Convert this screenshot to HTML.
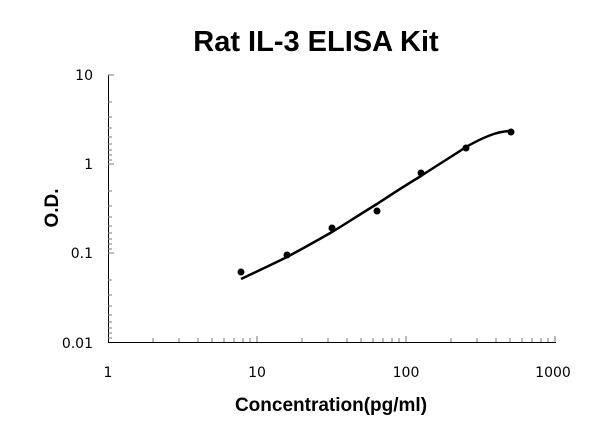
<!DOCTYPE html><html><head><style>body{margin:0;background:#fff}svg{display:block}</style></head><body>
<svg width="600" height="438" xmlns="http://www.w3.org/2000/svg" font-family="Liberation Sans, sans-serif">
<text x="316" y="51" font-size="29" font-weight="bold" text-anchor="middle">Rat IL-3 ELISA Kit</text>
<g stroke="#000" stroke-width="1" fill="none">
<line x1="108.5" y1="75" x2="108.5" y2="342"/>
<line x1="108" y1="342.5" x2="556" y2="342.5"/>
</g>
<g font-size="14" fill="#000" font-family="DejaVu Sans, sans-serif">
<text x="93" y="80" text-anchor="end">10</text>
<text x="93" y="169" text-anchor="end">1</text>
<text x="93" y="258" text-anchor="end">0.1</text>
<text x="93" y="348" text-anchor="end">0.01</text>
<text x="108" y="377" text-anchor="middle">1</text>
<text x="257" y="377" text-anchor="middle">10</text>
<text x="406" y="377" text-anchor="middle">100</text>
<text x="553" y="377" text-anchor="middle">1000</text>
</g>
<text x="331" y="411" font-size="19" font-weight="bold" text-anchor="middle">Concentration(pg/ml)</text>
<text transform="translate(58,208) rotate(-90)" font-size="19" font-weight="bold" text-anchor="middle">O.D.</text>
<path d="M241,279 C260,270 275,263 287,257 C302,249 318,240 332,232 C347,223 362,213 377,204 C392,194 406,185 421,176 C436,166 451,157 466,147 C482,138 497,131 511,131" stroke="#000" stroke-width="2.5" fill="none"/>
<g fill="#000">
<circle cx="241" cy="272" r="3.5"/><circle cx="287" cy="255" r="3.5"/><circle cx="332" cy="228" r="3.5"/><circle cx="377" cy="211" r="3.5"/><circle cx="421" cy="173" r="3.5"/><circle cx="466" cy="148" r="3.5"/><circle cx="511" cy="132" r="3.5"/>
</g>
<g stroke="#777" stroke-width="1">
<line x1="108" y1="75" x2="114" y2="75"/>
<line x1="108" y1="164" x2="114" y2="164"/>
<line x1="108" y1="253" x2="114" y2="253"/>
<line x1="108" y1="102" x2="112" y2="102"/><line x1="108" y1="117" x2="112" y2="117"/><line x1="108" y1="128" x2="112" y2="128"/><line x1="108" y1="137" x2="112" y2="137"/><line x1="108" y1="144" x2="112" y2="144"/><line x1="108" y1="150" x2="112" y2="150"/><line x1="108" y1="155" x2="112" y2="155"/><line x1="108" y1="160" x2="112" y2="160"/>
<line x1="108" y1="191" x2="112" y2="191"/><line x1="108" y1="206" x2="112" y2="206"/><line x1="108" y1="217" x2="112" y2="217"/><line x1="108" y1="226" x2="112" y2="226"/><line x1="108" y1="233" x2="112" y2="233"/><line x1="108" y1="239" x2="112" y2="239"/><line x1="108" y1="244" x2="112" y2="244"/><line x1="108" y1="249" x2="112" y2="249"/>
<line x1="108" y1="280" x2="112" y2="280"/><line x1="108" y1="295" x2="112" y2="295"/><line x1="108" y1="306" x2="112" y2="306"/><line x1="108" y1="315" x2="112" y2="315"/><line x1="108" y1="322" x2="112" y2="322"/><line x1="108" y1="328" x2="112" y2="328"/><line x1="108" y1="333" x2="112" y2="333"/><line x1="108" y1="338" x2="112" y2="338"/>
<line x1="257" y1="342" x2="257" y2="336"/><line x1="406" y1="342" x2="406" y2="336"/><line x1="555" y1="342" x2="555" y2="336"/>
<line x1="153" y1="342" x2="153" y2="338"/><line x1="179" y1="342" x2="179" y2="338"/><line x1="198" y1="342" x2="198" y2="338"/><line x1="212" y1="342" x2="212" y2="338"/><line x1="224" y1="342" x2="224" y2="338"/><line x1="234" y1="342" x2="234" y2="338"/><line x1="243" y1="342" x2="243" y2="338"/><line x1="250" y1="342" x2="250" y2="338"/>
<line x1="302" y1="342" x2="302" y2="338"/><line x1="328" y1="342" x2="328" y2="338"/><line x1="347" y1="342" x2="347" y2="338"/><line x1="361" y1="342" x2="361" y2="338"/><line x1="373" y1="342" x2="373" y2="338"/><line x1="383" y1="342" x2="383" y2="338"/><line x1="392" y1="342" x2="392" y2="338"/><line x1="399" y1="342" x2="399" y2="338"/>
<line x1="451" y1="342" x2="451" y2="338"/><line x1="477" y1="342" x2="477" y2="338"/><line x1="496" y1="342" x2="496" y2="338"/><line x1="510" y1="342" x2="510" y2="338"/><line x1="522" y1="342" x2="522" y2="338"/><line x1="532" y1="342" x2="532" y2="338"/><line x1="541" y1="342" x2="541" y2="338"/><line x1="548" y1="342" x2="548" y2="338"/>
</g>
</svg>
</body></html>
